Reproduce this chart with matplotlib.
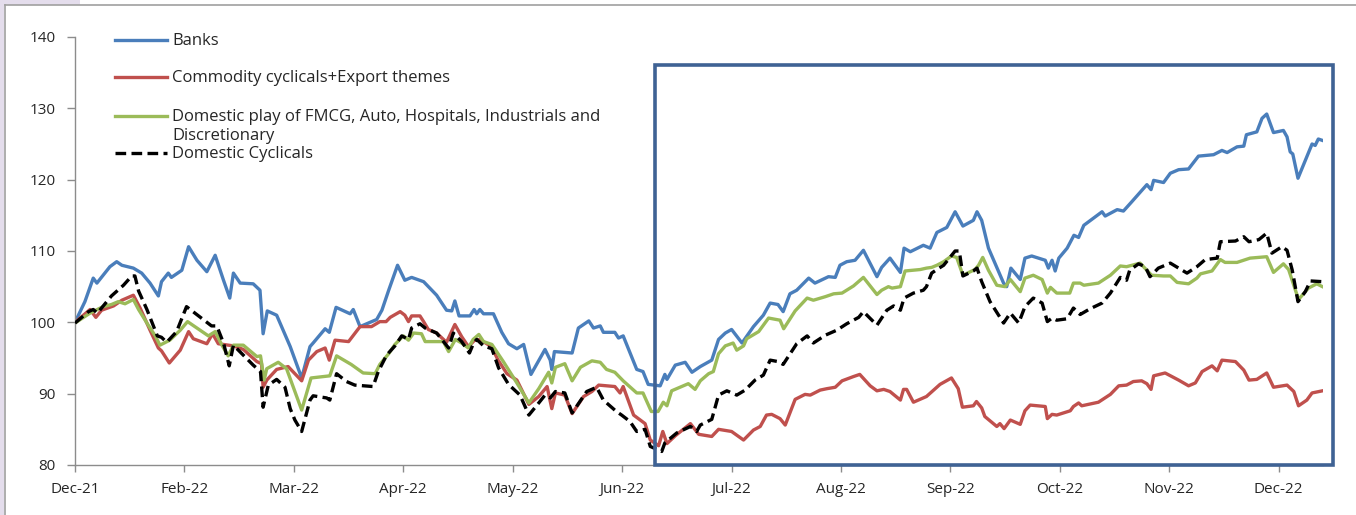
import matplotlib
matplotlib.use("Agg")
import matplotlib.pyplot as plt
from matplotlib.patches import Rectangle
from matplotlib.lines import Line2D

# ---------------- data (x = trading-day index from 31-Dec-21) ----------------
tick_labels = ["Dec-21", "Feb-22", "Mar-22", "Apr-22", "May-22", "Jun-22",
               "Jul-22", "Aug-22", "Sep-22", "Oct-22", "Nov-22", "Dec-22"]
tick_days = [0, 21, 42, 63, 84, 105, 126, 147, 168, 189, 210, 231]

series_names = ["Banks", "Commodity cyclicals+Export themes",
                "Domestic play of FMCG, Auto, Hospitals, Industrials and\nDiscretionary",
                "Domestic Cyclicals"]

banks_x = [0, 1.9, 3.5, 4.2, 6.7, 8.0, 9.0, 11.2, 12.8, 14.4, 16.0, 16.6, 17.9, 18.5, 20.5,
           21.8, 23.4, 25.3, 26.9, 28.5, 29.7, 30.4, 31.7, 34.2, 35.5, 36.1, 36.9, 38.7,
           41.3, 43.5, 45.1, 45.7, 48.0, 48.8, 50.1, 52.8, 53.4, 54.7, 57.9, 58.9, 60.2,
           61.9, 63.3, 64.6, 66.9, 69.4, 71.3, 72.3, 72.9, 73.7, 75.8, 76.6, 77.1, 77.7,
           78.4, 80.3, 81.9, 83.2, 84.8, 86.1, 87.5, 90.2, 91.2, 91.5, 92.0, 95.4, 96.6,
           98.6, 99.5, 100.8, 101.4, 103.6, 104.3, 105.2, 107.8, 109.0, 110.0, 112.3,
           113.2, 113.6, 115.2, 117.1, 118.4, 120.0, 122.2, 123.5, 124.8, 126.0, 128.0,
           130.2, 132.1, 133.4, 134.9, 135.9, 137.2, 138.5, 140.8, 142.0, 144.6, 145.9,
           146.8, 148.1, 149.7, 151.3, 153.9, 154.8, 156.4, 158.4, 159.1, 160.3, 162.8,
           164.1, 165.4, 167.3, 168.9, 170.4, 172.4, 173.1, 174.0, 175.3, 178.2, 178.8,
           179.6, 181.4, 182.3, 183.6, 186.2, 186.8, 187.5, 188.1, 188.8, 190.4, 191.7,
           192.6, 193.6, 195.8, 197.1, 197.7, 200.0, 201.2, 202.8, 205.7, 206.5, 207.0,
           208.9, 210.2, 211.8, 213.7, 215.6, 218.5, 220.1, 221.1, 223.0, 224.3, 224.8,
           226.8, 227.8, 228.7, 230.0, 231.9, 232.6, 233.2, 233.7, 234.7, 236.1, 237.4,
           238.0, 238.6, 239.4]
banks_v = [100, 102.9, 106.2, 105.5, 107.8, 108.5, 108.0, 107.6, 106.9, 105.5, 103.7, 105.7,
           106.9, 106.3, 107.3, 110.6, 108.7, 107.1, 109.4, 105.9, 103.4, 106.9, 105.5,
           105.4, 104.5, 98.4, 101.6, 101.0, 96.6, 92.2, 96.6, 97.1, 99.1, 98.6, 102.1,
           101.2, 101.8, 99.4, 100.4, 101.7, 104.5, 108.0, 105.9, 106.3, 105.7, 103.8,
           101.7, 101.6, 103.0, 100.9, 100.9, 101.8, 101.2, 101.8, 101.2, 101.2, 98.6,
           97.0, 96.3, 96.9, 92.7, 96.2, 94.7, 93.4, 95.9, 95.7, 99.2, 100.2, 99.2, 99.5,
           98.6, 98.6, 97.8, 98.1, 93.4, 93.1, 91.3, 91.1, 92.7, 92.0, 94.0, 94.4, 93.0,
           93.8, 94.7, 97.6, 98.5, 99.0, 97.1, 99.4, 101.0, 102.7, 102.5, 101.5, 104.0,
           104.5, 106.2, 105.5, 106.4, 106.3, 108.0, 108.5, 108.7, 110.1, 106.4, 107.7,
           109.0, 107.0, 110.4, 109.9, 110.8, 110.4, 112.6, 113.3, 115.5, 113.5, 114.3,
           115.5, 114.3, 110.4, 105.5, 105.0, 107.6, 106.0, 109.0, 109.3, 108.7, 107.6,
           108.7, 107.2, 109.0, 110.4, 112.2, 111.9, 113.6, 114.8, 115.5, 114.9, 115.8,
           115.6, 116.9, 119.3, 118.6, 119.9, 119.6, 120.9, 121.4, 121.5, 123.3, 123.5,
           124.1, 123.8, 124.6, 124.7, 126.3, 126.7, 128.6, 129.2, 126.6, 126.9, 126.0,
           123.9, 123.6, 120.2, 122.7, 125.0, 124.8, 125.7, 125.5]

commod_x = [0, 2.9, 4.0, 5.1, 7.4, 9.0, 11.2, 12.5, 14.4, 16.0, 16.6, 18.1, 20.2, 21.8,
            22.7, 25.3, 26.4, 27.5, 30.4, 32.3, 34.9, 35.8, 36.1, 36.8, 38.7, 40.9, 43.5,
            44.8, 46.4, 48.0, 48.8, 49.9, 52.5, 54.7, 56.9, 58.5, 59.7, 60.5, 62.4, 63.3,
            64.0, 64.6, 66.2, 66.9, 67.8, 69.4, 71.3, 72.9, 74.2, 75.5, 76.7, 77.7, 79.9,
            81.2, 82.9, 84.8, 87.1, 89.0, 90.6, 91.5, 92.2, 94.0, 95.4, 97.6, 99.2, 100.5,
            103.6, 104.6, 105.2, 107.2, 109.4, 110.4, 112.0, 112.8, 113.6, 115.2, 118.1,
            119.7, 122.2, 123.5, 126.0, 128.3, 130.2, 131.5, 132.7, 133.7, 135.3, 136.3,
            138.2, 140.1, 141.1, 143.0, 144.3, 145.9, 147.2, 149.4, 150.6, 152.6, 153.9,
            155.2, 156.4, 158.4, 159.0, 159.6, 160.9, 163.4, 166.0, 168.2, 169.5, 170.3,
            172.4, 173.0, 174.0, 174.6, 176.9, 177.5, 178.3, 179.5, 181.4, 182.3, 183.3,
            186.2, 186.6, 187.5, 188.4, 191.0, 191.6, 192.6, 193.2, 196.4, 198.7, 200.3,
            201.8, 203.1, 204.7, 205.7, 206.5, 207.0, 209.2, 211.8, 213.7, 215.0, 216.3,
            218.2, 219.2, 220.1, 222.7, 224.3, 225.3, 226.8, 228.7, 230.0, 232.6, 233.9,
            234.8, 236.4, 237.4, 239.4]
commod_v = [100, 101.8, 100.7, 101.7, 102.3, 103.1, 103.8, 102.0, 98.9, 96.4, 96.0, 94.3,
            96.1, 98.7, 97.7, 97.0, 98.4, 97.0, 96.7, 96.2, 94.5, 94.2, 90.9, 91.9, 93.4,
            93.8, 91.8, 94.7, 95.9, 96.4, 94.7, 97.5, 97.3, 99.4, 99.4, 100.1, 100.1, 100.7,
            101.5, 101.0, 100.1, 100.9, 100.9, 100.1, 99.0, 98.5, 97.2, 99.7, 98.0, 96.6,
            97.5, 97.6, 96.6, 94.7, 92.8, 91.9, 88.5, 89.6, 91.0, 87.9, 90.1, 89.8, 87.2,
            89.6, 90.3, 91.2, 91.0, 90.1, 91.0, 87.0, 85.8, 83.5, 82.7, 84.7, 83.0, 84.1,
            85.8, 84.3, 84.0, 85.0, 84.7, 83.5, 84.9, 85.4, 87.0, 87.1, 86.5, 85.6, 89.2,
            89.9, 89.8, 90.5, 90.7, 90.9, 91.8, 92.4, 92.7, 91.1, 90.4, 90.6, 90.3, 89.1,
            90.6, 90.6, 88.8, 89.6, 91.3, 92.2, 90.7, 88.1, 88.3, 88.9, 88.0, 86.8, 85.4,
            85.8, 85.1, 86.3, 85.7, 87.6, 88.4, 88.2, 86.5, 87.1, 87.0, 87.6, 88.2, 88.7,
            88.3, 88.8, 89.9, 91.1, 91.2, 91.7, 91.8, 91.4, 90.6, 92.5, 92.9, 91.9, 91.1,
            91.5, 93.1, 93.9, 93.2, 94.7, 94.5, 93.3, 91.9, 92.0, 92.9, 90.9, 91.2, 90.3,
            88.3, 89.1, 90.1, 90.4]

dom_play_x = [0, 2.9, 5.4, 7.0, 8.3, 9.6, 11.2, 12.2, 13.8, 15.4, 16.3, 18.2, 20.2, 21.6,
              23.4, 25.6, 26.9, 28.2, 29.4, 30.4, 32.3, 34.9, 35.6, 36.3, 36.8, 39.0, 40.6,
              43.5, 45.3, 48.9, 50.2, 53.0, 55.3, 57.6, 58.5, 60.2, 61.4, 63.0, 64.0, 65.0,
              66.5, 67.2, 70.7, 71.7, 73.0, 74.2, 75.5, 76.4, 77.5, 78.4, 80.0, 82.2, 84.8,
              87.1, 89.0, 90.9, 91.5, 92.2, 94.0, 95.4, 97.0, 99.2, 100.8, 102.0, 103.6,
              105.2, 107.8, 109.0, 110.6, 111.9, 112.9, 113.6, 114.5, 117.7, 119.0, 120.0,
              121.6, 122.5, 123.5, 124.8, 126.3, 127.0, 128.3, 128.9, 131.2, 133.1, 135.3,
              136.0, 138.2, 140.5, 141.7, 144.0, 145.6, 147.2, 149.4, 151.3, 153.9, 154.8,
              156.1, 156.8, 158.4, 159.3, 162.2, 163.4, 164.4, 165.4, 166.7, 168.2, 169.2,
              170.4, 172.7, 173.4, 174.2, 175.3, 176.9, 178.5, 179.5, 181.4, 182.3, 183.9,
              185.6, 186.6, 187.2, 188.4, 190.9, 191.6, 192.9, 193.6, 196.4, 198.7, 200.6,
              201.8, 204.4, 206.6, 208.9, 210.2, 211.5, 213.7, 215.3, 216.0, 218.2, 219.8,
              220.7, 223.0, 225.5, 228.7, 230.0, 231.9, 232.9, 234.8, 236.7, 238.3, 239.4]
dom_play_v = [99.9, 101.3, 102.2, 102.5, 102.9, 102.6, 103.2, 101.8, 99.9, 98.1, 96.8, 97.5,
              98.9, 100.1, 99.2, 98.1, 98.7, 96.8, 95.3, 96.8, 96.8, 95.2, 95.3, 91.9, 93.5,
              94.4, 93.5, 87.7, 92.2, 92.5, 95.3, 94.1, 92.9, 92.8, 94.1, 95.6, 96.9, 98.1,
              97.5, 98.5, 98.4, 97.3, 97.3, 95.9, 97.6, 97.1, 96.4, 97.6, 98.3, 97.3, 96.9,
              94.5, 91.5, 88.7, 90.7, 93.0, 91.5, 93.7, 94.2, 91.8, 93.7, 94.6, 94.4, 93.4,
              93.0, 91.8, 90.1, 90.1, 87.5, 87.5, 88.8, 88.3, 90.4, 91.4, 90.6, 91.8, 92.8,
              93.1, 95.6, 96.7, 97.1, 96.1, 96.7, 97.7, 98.7, 100.6, 100.3, 99.1, 101.6,
              103.4, 103.1, 103.6, 104.0, 104.1, 105.1, 106.3, 103.9, 104.5, 105.0, 104.8,
              105.0, 107.2, 107.4, 107.6, 107.7, 108.0, 108.5, 109.3, 109.1, 106.6, 107.4,
              108.0, 109.1, 107.3, 105.2, 105.0, 106.0, 104.3, 106.2, 106.6, 106.0, 104.1,
              104.9, 104.1, 104.1, 105.5, 105.5, 105.2, 105.5, 106.6, 107.9, 107.8, 108.3,
              106.6, 106.5, 106.5, 105.6, 105.4, 106.2, 106.8, 107.2, 108.8, 108.4, 108.4,
              109.0, 109.2, 107.0, 108.2, 107.4, 103.2, 104.8, 105.4, 105.0]

dom_cyc_x = [0, 2.6, 3.5, 4.3, 7.0, 9.3, 10.9, 11.5, 12.2, 13.8, 15.8, 16.6, 17.6, 19.5,
             21.4, 23.0, 26.2, 27.2, 28.5, 29.6, 30.4, 32.3, 34.2, 35.6, 36.1, 37.1, 38.7,
             40.3, 41.3, 42.2, 43.5, 45.1, 45.7, 48.3, 48.9, 50.2, 52.1, 53.7, 57.2, 58.2,
             59.8, 61.4, 62.7, 64.0, 64.6, 66.2, 67.2, 69.4, 71.7, 72.6, 74.2, 75.7, 76.5,
             77.1, 78.4, 80.0, 81.3, 83.2, 85.4, 87.1, 89.0, 90.2, 91.2, 92.2, 94.0, 95.4,
             98.2, 100.1, 101.4, 103.9, 104.9, 106.5, 107.8, 109.4, 110.4, 112.6, 113.2,
             115.5, 118.1, 119.3, 120.0, 122.2, 123.5, 125.1, 127.0, 128.6, 130.5, 132.1,
             133.4, 134.9, 135.9, 138.5, 140.5, 141.7, 144.0, 146.2, 148.1, 150.4, 151.3,
             153.9, 155.8, 157.1, 158.4, 159.1, 160.9, 162.8, 163.4, 164.4, 165.4, 166.7,
             168.9, 169.7, 170.4, 172.4, 173.1, 174.0, 175.6, 178.2, 179.5, 181.1, 182.3,
             183.9, 185.6, 186.6, 187.5, 188.4, 190.4, 191.6, 192.9, 194.8, 197.1, 198.7,
             200.6, 201.8, 202.4, 204.1, 205.4, 206.3, 207.9, 210.2, 213.4, 215.3, 216.9,
             219.2, 219.8, 222.7, 224.3, 225.3, 227.2, 228.7, 229.7, 231.6, 232.6, 233.6,
             234.7, 236.1, 237.1, 239.4]
dom_cyc_v = [99.9, 101.5, 101.8, 101.3, 103.7, 105.2, 106.5, 106.5, 104.4, 101.8, 98.1, 97.9,
             97.2, 98.7, 102.2, 101.3, 99.5, 99.5, 97.1, 93.9, 96.8, 95.4, 94.0, 93.1, 88.1,
             91.2, 92.0, 90.9, 87.9, 86.3, 84.7, 89.1, 89.7, 89.4, 89.1, 92.8, 91.7, 91.2,
             91.0, 93.1, 95.4, 96.7, 98.1, 97.6, 99.2, 99.8, 99.2, 98.5, 96.4, 98.5, 97.3,
             95.7, 97.1, 97.6, 96.7, 96.3, 93.6, 91.3, 89.8, 87.0, 88.7, 89.8, 89.4, 90.3,
             90.1, 87.3, 90.3, 90.9, 89.1, 87.5, 87.0, 86.1, 84.7, 85.0, 82.6, 81.9, 83.1,
             84.5, 85.4, 84.7, 85.6, 86.4, 89.8, 90.4, 89.8, 90.5, 91.9, 92.6, 94.7, 94.5,
             94.1, 97.0, 98.1, 97.1, 98.2, 98.9, 99.8, 100.7, 101.5, 99.6, 101.7, 102.3,
             101.7, 103.4, 104.1, 104.5, 105.0, 106.9, 107.4, 108.0, 110.0, 110.0, 106.5,
             107.2, 107.6, 105.7, 102.9, 99.9, 101.3, 99.9, 102.2, 103.4, 102.7, 100.1,
             100.6, 100.3, 100.5, 102.0, 101.1, 101.9, 102.7, 104.1, 106.3, 105.9, 107.3,
             108.2, 107.8, 106.4, 107.6, 108.3, 106.9, 107.8, 108.8, 109.0, 111.3, 111.4,
             112.0, 111.3, 111.6, 112.5, 109.7, 110.6, 110.1, 107.3, 102.9, 104.3, 105.8,
             105.7]

# ---------------- styling ----------------
FONT = ["Open Sans", "DejaVu Sans"]
plt.rcParams["font.family"] = FONT
TXT = "#262626"
colors = ["#4A7EBB", "#C0504D", "#9BBB59", "#000000"]
TICK_FS = 11
LEG_FS = 12

fig = plt.figure(figsize=(13.56, 5.15), dpi=100, facecolor="white")

# outer frame decorations (lavender slide background + grey chart border)
fig.patches.append(Rectangle((0, 0), 4 / 1356, 1, transform=fig.transFigure,
                             facecolor="#E4DDEC", edgecolor="none", zorder=0))
fig.patches.append(Rectangle((0, 1 - 5 / 515), 80 / 1356, 5 / 515, transform=fig.transFigure,
                             facecolor="#E4DDEC", edgecolor="none", zorder=0))
fig.lines.append(Line2D([5 / 1356, 1], [1 - 5 / 515, 1 - 5 / 515], transform=fig.transFigure,
                        color="#A0A0A0", lw=1.2))
fig.lines.append(Line2D([5 / 1356, 5 / 1356], [0, 1 - 5 / 515], transform=fig.transFigure,
                        color="#A0A0A0", lw=1.2))

ax = fig.add_axes([75 / 1356, 50 / 515, (1323 - 75) / 1356, (465 - 37) / 515])
ax.set_facecolor("none")

DASH = (0, (3.2, 1.6))
xs = [banks_x, commod_x, dom_play_x, dom_cyc_x]
vs = [banks_v, commod_v, dom_play_v, dom_cyc_v]
for i, (x, v) in enumerate(zip(xs, vs)):
    if i == 3:
        ax.plot(x, v, color=colors[i], lw=2.4, ls=DASH, zorder=3)
    else:
        ax.plot(x, v, color=colors[i], lw=2.4, zorder=2, solid_joinstyle="round")

ax.set_xlim(0, 239.5)
ax.set_ylim(80, 140)
ax.set_yticks(range(80, 141, 10))
ax.set_xticks(tick_days)
ax.set_xticklabels(tick_labels)
for s in ["top", "right"]:
    ax.spines[s].set_visible(False)
for s in ["left", "bottom"]:
    ax.spines[s].set_color("#8C8C8C")
    ax.spines[s].set_linewidth(1.0)
ax.tick_params(axis="y", direction="out", length=6, width=1, color="#8C8C8C",
               pad=8, labelsize=TICK_FS, labelcolor=TXT)
ax.tick_params(axis="x", direction="out", length=5, width=1, color="#8C8C8C",
               pad=7, labelsize=TICK_FS, labelcolor=TXT)

# highlight box
ax.add_patch(Rectangle((111.3, 80), 241.4 - 111.3, 136.1 - 80, fill=False,
                       edgecolor="#3F6294", lw=2.6, clip_on=False, zorder=5))

# manual legend (Excel-style spacing)
def px2ax(px, py):
    return ((px - 75) / (1323 - 75), (465 - py) / (465 - 37))

leg_y = [40, 77, 116, 153]
for i, name in enumerate(series_names):
    x0, y0 = px2ax(115, leg_y[i])
    x1, _ = px2ax(167, leg_y[i])
    ax.plot([x0, x1], [y0, y0], transform=ax.transAxes, color=colors[i], lw=2.4,
            ls=DASH if i == 3 else "-", clip_on=False)
    tx, _ = px2ax(172, leg_y[i])
    for k, line in enumerate(name.split("\n")):
        _, ty = px2ax(172, leg_y[i] + 1 + 19 * k)
        ax.text(tx, ty, line, transform=ax.transAxes, fontsize=LEG_FS, color=TXT,
                va="center", ha="left")

fig.savefig("out.png", dpi=100, facecolor="white")
